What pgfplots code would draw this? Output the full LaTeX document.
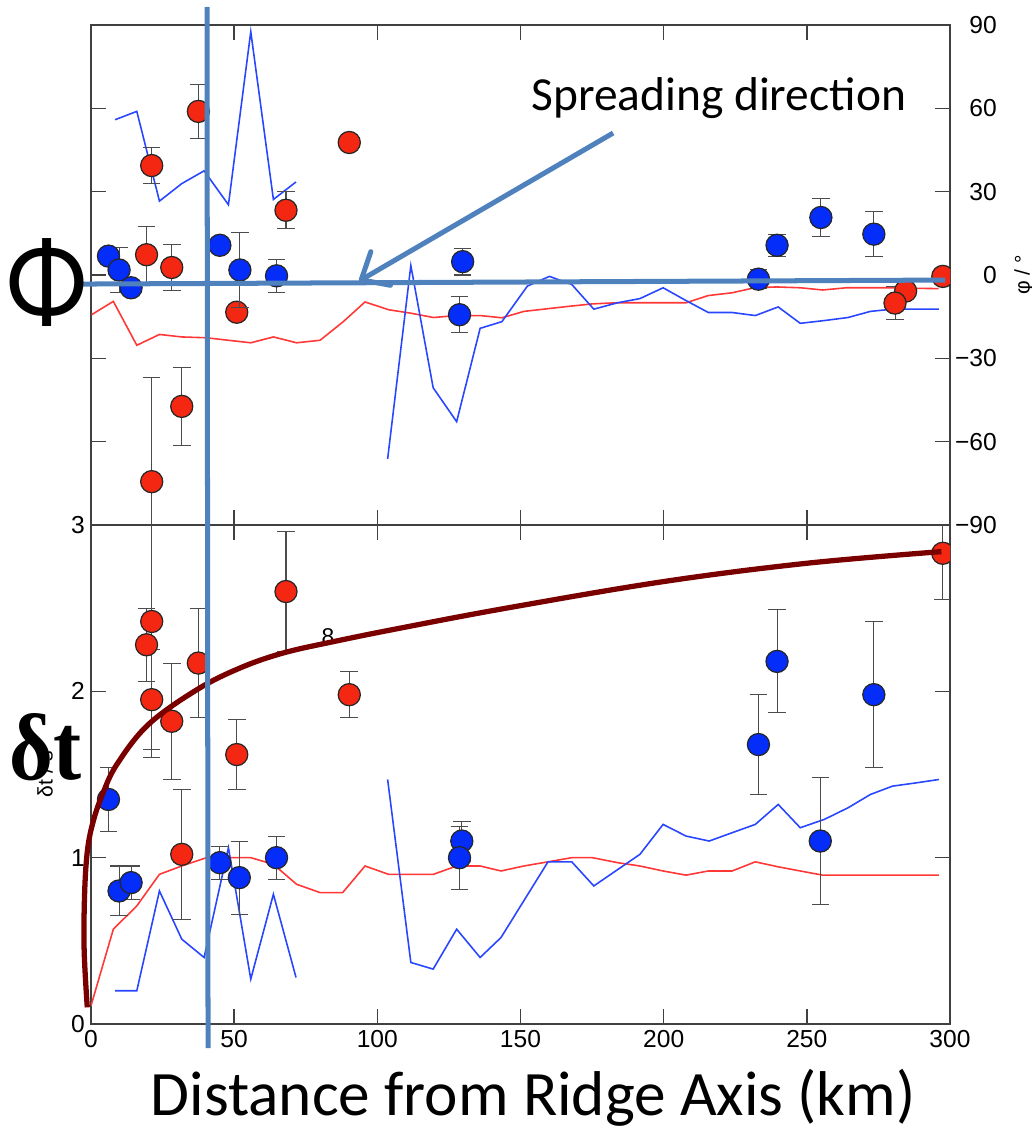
\documentclass[border=0pt]{standalone}
\usepackage{pgfplots}
\pgfplotsset{compat=1.18}
\usepackage{pgfplotstable}
\usepackage{fontspec}
\setmainfont{Carlito}
\newfontfamily\helv{Liberation Sans}
\newfontfamily\tms{Liberation Serif}
\usetikzlibrary{arrows.meta}
\definecolor{rfill}{RGB}{244,40,18}
\definecolor{bfill}{RGB}{5,45,250}
\definecolor{rline}{RGB}{255,55,55}
\definecolor{bline}{RGB}{40,70,255}
\definecolor{steel}{RGB}{79,129,189}
\definecolor{dred}{RGB}{122,0,0}

% top panel (phi, degrees)
\pgfplotstableread{
x y e
21.2 39.4 6.5
37.5 58.9 9.7
90.2 47.7 0
68.1 23.3 6.7
19.4 7.3 10
28.2 2.7 8.3
50.9 -13.4 0
31.7 -47.3 14
21.2 -74.4 37.5
297.5 -0.5 0
284.5 -5.8 0
280.8 -10.1 5.8
}\topred
\pgfplotstableread{
x y e
6.1 6.8 0
9.8 1.8 8
14 -4.6 0
45 10.7 0
52 1.8 13.5
64.8 -0.3 6
129.8 4.8 4.8
128.7 -14.3 6.4
233.1 -1.5 3.5
239.6 10.7 3.9
254.9 20.7 7
273.4 14.7 8
}\topblue
% bottom panel (delta t, s)
\pgfplotstableread{
x y e
21.2 2.42 0.82
19.4 2.28 0.22
21.2 1.95 0.30
28.2 1.82 0.35
37.5 2.17 0.33
31.7 1.02 0.39
50.9 1.62 0.21
68.1 2.60 0.36
90.2 1.98 0.14
297.5 2.83 0.28
}\botred
\pgfplotstableread{
x y e
6.1 1.35 0.19
9.8 0.80 0.15
14 0.85 0.10
45 0.97 0.10
51.8 0.88 0.22
64.8 1.00 0.13
129.5 1.10 0.12
128.7 1.00 0.19
233.1 1.68 0.30
239.6 2.18 0.31
254.7 1.10 0.38
273.4 1.98 0.44
}\botblue

\pgfplotsset{
  panel/.style={
    scale only axis, width=17.18cm,
    xmin=0, xmax=300,
    xtick={0,50,...,300},
    tick align=inside,
    major tick length=0.3cm,
    axis line style={black!75, line width=0.9pt},
    tick style={black!75, line width=0.8pt},
    tick label style={font=\helv\fontsize{14}{14}\selectfont},
    /pgf/number format/assume math mode=true,
    clip marker paths=true,
  },
  redpts/.style={only marks, mark=*, mark size=6.3pt,
    mark options={fill=rfill, draw=black!85, line width=0.7pt},
    error bars/.cd, y dir=both, y explicit,
    error bar style={black!70, line width=0.6pt},
    error mark options={rotate=90, mark size=5pt, black!70, line width=0.6pt}},
  bluepts/.style={only marks, mark=*, mark size=6.3pt,
    mark options={fill=bfill, draw=black!85, line width=0.7pt},
    error bars/.cd, y dir=both, y explicit,
    error bar style={black!70, line width=0.6pt},
    error mark options={rotate=90, mark size=5pt, black!70, line width=0.6pt}},
}

\begin{document}
\begin{tikzpicture}
\path[use as bounding box] (0,0) rectangle (20.64cm,-22.66cm);

% ---------- top panel ----------
\begin{axis}[panel, at={(1.82cm,-0.5cm)}, anchor=north west, height=10cm,
  ymin=-90, ymax=90, ytick={-90,-60,...,90},
  xticklabels={},
  ytick pos=both,
  yticklabels={−90,−60,−30,0,30,60,90},
  yticklabel pos=right,
  yticklabel style={anchor=east, xshift=1.06cm},
]
\addplot[rline, line width=0.9pt] coordinates {
(0.2,-14.3)(7.8,-9.5)(16,-25.3)(23.9,-21.4)(31.7,-22.3)(40.4,-22.6)(48,-23.5)
(55.8,-24.4)(63.7,-22.3)(71.8,-24.4)(80,-23.5)(88.1,-16.8)(95.7,-9.7)(103.9,-12.5)
(111.4,-13.7)(119.6,-15.3)(127.7,-14.6)(135.9,-14.6)(143.5,-15.4)(151.2,-13.1)
(166.7,-11.3)(175.1,-10.4)(183.4,-10)(191.7,-10)(200,-10)(207.8,-10)(215.6,-7.4)
(223.9,-6.4)(231.7,-4.6)(239.4,-4.3)(247.8,-4.6)(255.5,-5.4)(263.8,-4.6)
(271.6,-4.6)(279.8,-4.6)(288,-4.8)(296,-4.9)};
\addplot[bline, line width=0.9pt] coordinates {
(8.4,55.9)(16,58.9)(23.9,26.6)(31.7,32.9)(39.5,37.5)(48,25.3)(55.8,87.6)
(63.7,27.2)(71.6,33.5)};
\addplot[bline, line width=0.9pt] coordinates {
(103.6,-66.2)(111.7,3.4)(119.5,-40.6)(127.7,-52.8)(135.9,-19.2)(143.5,-16.8)
(152.4,-4)(160.1,-0.5)(167.9,-3.4)(175.6,-12.3)(183.9,-10)(191.7,-8.5)
(199.8,-4.6)(207.8,-9.2)(215.6,-13.5)(223.9,-13.5)(232,-14.6)(240,-11.5)
(247.7,-17.4)(256.1,-16.4)(264.4,-15.3)(272.2,-13.1)(279.9,-12.3)(288.3,-12.3)
(296.1,-12.3)};
\addplot[redpts] table[x=x, y=y, y error=e] {\topred};
\addplot[bluepts] table[x=x, y=y, y error=e] {\topblue};
\end{axis}

% ---------- bottom panel ----------
\begin{axis}[panel, at={(1.82cm,-10.5cm)}, anchor=north west, height=9.98cm,
  ymin=0, ymax=3, ytick={0,1,2,3},
  xticklabels={0,50,100,150,200,250,300},
]
\node[font=\helv\fontsize{13}{13}\selectfont] at (axis cs:82.8,2.33) {8};
\addplot[rline, line width=0.9pt] coordinates {
(0,0.11)(7.8,0.57)(16,0.71)(23.9,0.90)(31.7,0.95)(40.4,1.0)(48,1.0)(55.8,1.0)
(63.7,0.96)(71.8,0.84)(80,0.79)(87.9,0.79)(95.7,0.95)(103.9,0.90)(111.4,0.90)
(119.6,0.90)(127.7,0.95)(135.9,0.95)(143.2,0.92)(151.2,0.95)(159.6,0.975)
(167.9,1.0)(175.1,1.0)(183.9,0.97)(191.7,0.95)(199.8,0.92)(207.8,0.895)
(215.6,0.92)(223.9,0.92)(232,0.975)(240,0.945)(247.7,0.92)(255.5,0.895)
(264.4,0.895)(279.9,0.895)(296.1,0.895)};
\addplot[bline, line width=0.9pt] coordinates {
(8.4,0.20)(16,0.20)(23.9,0.80)(31.7,0.51)(39.5,0.40)(48,1.06)(55.8,0.27)
(63.7,0.78)(71.6,0.28)};
\addplot[bline, line width=0.9pt] coordinates {
(103.6,1.47)(111.7,0.37)(119.5,0.33)(127.7,0.57)(135.9,0.40)(143.2,0.52)
(159.6,0.975)(167.9,0.975)(175.6,0.83)(191.7,1.02)(199.8,1.20)(207.8,1.13)
(215.9,1.10)(223.9,1.15)(232,1.20)(240,1.32)(247.7,1.18)(256.1,1.23)
(264.4,1.30)(272.2,1.38)(279.9,1.43)(288.3,1.45)(296.1,1.47)};
\addplot[redpts] table[x=x, y=y, y error=e] {\botred};
\addplot[bluepts] table[x=x, y=y, y error=e] {\botblue};
\end{axis}

% ---------- dark red trend curve (unclipped overlay axis) ----------
\begin{axis}[at={(1.82cm,-10.5cm)}, anchor=north west, scale only axis,
  width=17.18cm, height=9.98cm, xmin=0, xmax=300, ymin=0, ymax=3,
  axis lines=none, clip=false]
\addplot[dred, line width=3pt, smooth, tension=0.6] coordinates {
(-1.3,0.10)(-2.4,0.45)(-2.2,0.80)(-1.2,1.05)(0.8,1.22)(4,1.38)(9,1.56)(20,1.80)
(37,2.01)(52,2.14)(67,2.23)(85,2.30)(108,2.38)(145,2.50)(200,2.66)(250,2.77)
(297,2.84)};
\end{axis}

% ---------- annotations (pixel coordinates) ----------
\begin{scope}[x=0.02cm, y=-0.02cm]
\node[font=\helv\fontsize{12}{12}\selectfont, rotate=90] at (1024,275) {φ / °};
\node[font=\helv\fontsize{12}{12}\selectfont, rotate=90] at (45,774) {δt / s};
\draw[steel, line width=2.85pt] (207,7) -- (208,1048);
\draw[steel, line width=2.85pt] (83,284) -- (945,280);
\draw[steel, line width=2.85pt, -{Straight Barb[length=0.45cm, width=0.78cm, round]}]
  (613,133) -- (359,281);
\node[anchor=base west, font=\fontsize{27}{27}\selectfont, inner sep=0pt] at (531,110) {Spreading direction};
\node[anchor=base, font=\fontsize{36}{36}\selectfont, inner sep=0pt] at (533,1115) {Distance from Ridge Axis (km)};
\node[anchor=base, inner sep=0pt] at (47,320) {\scalebox{0.92}[1.02]{\fontsize{66}{66}\selectfont Φ}};
\node[anchor=base west, inner sep=0pt] at (9,779) {\scalebox{1}[1.12]{\tms\bfseries\fontsize{48}{48}\selectfont δt}};
\end{scope}
\end{tikzpicture}
\end{document}
